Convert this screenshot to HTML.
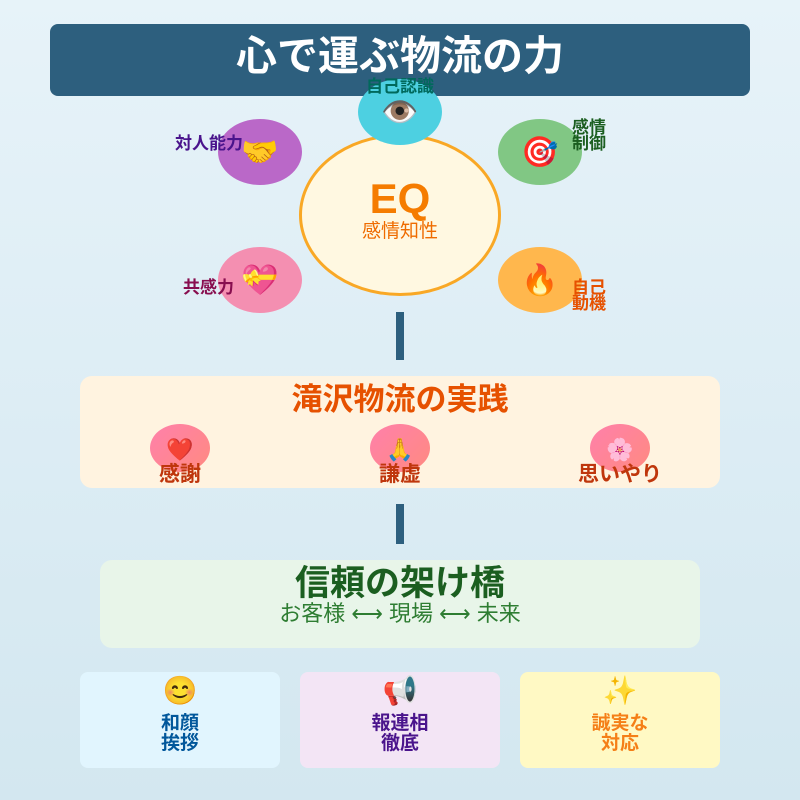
<!DOCTYPE html>
<html><head><meta charset="utf-8"><style>
*{margin:0;padding:0;box-sizing:border-box}
body{width:800px;height:800px;position:relative;overflow:hidden;background:linear-gradient(#e7f3f9,#d3e7f0);font-family:"Liberation Sans","Noto Sans CJK JP",sans-serif}
.a{position:absolute}
.c{position:absolute;text-align:center;white-space:nowrap}
.el{position:absolute;border-radius:50%;display:flex;align-items:center;justify-content:center;font-size:30px}
.lb{position:absolute;font-size:17px;font-weight:bold;line-height:16px;white-space:nowrap}
.pc{position:absolute;width:60px;height:48px;border-radius:50%;background:linear-gradient(135deg,#ff80ab,#ff8a80);text-align:center;font-size:22px;line-height:52px}
.pl{position:absolute;width:160px;text-align:center;font-size:21px;font-weight:bold;color:#bf360c;line-height:26px}
.card{position:absolute;top:672px;width:200px;height:96px;border-radius:8px;text-align:center}
.card .e{font-size:28px;line-height:32px;margin-top:3px}
.card .t{font-size:19px;font-weight:bold;line-height:20px;margin-top:7px}
</style></head><body>
<div class="a" style="left:50px;top:24px;width:700px;height:72px;background:#2d5f7e;border-radius:8px"></div>
<div class="c" style="left:50px;width:700px;top:32px;font-size:41px;font-weight:bold;color:#fff;line-height:48px">心で運ぶ物流の力</div>

<div class="a" style="left:299px;top:134px;width:202px;height:162px;border-radius:50%;background:#fff8e1;border:3px solid #f9a825"></div>
<div class="c" style="left:300px;width:200px;top:175px;font-size:42px;font-weight:bold;color:#f57c00;line-height:48px">EQ</div>
<div class="c" style="left:300px;width:200px;top:221px;font-size:19px;color:#ef6c00;line-height:22px">感情知性</div>

<div class="el" style="left:358px;top:79px;width:84px;height:66px;background:#4dd0e1">👁️</div>
<div class="el" style="left:218px;top:119px;width:84px;height:66px;background:#ba68c8">🤝</div>
<div class="el" style="left:498px;top:119px;width:84px;height:66px;background:#81c784">🎯</div>
<div class="el" style="left:218px;top:247px;width:84px;height:66px;background:#f48fb1">💝</div>
<div class="el" style="left:498px;top:247px;width:84px;height:66px;background:#ffb74d">🔥</div>

<div class="lb" style="left:366px;top:79px;color:#00695c">自己認識</div>
<div class="lb" style="left:175px;top:136px;color:#4a148c">対人能力</div>
<div class="lb" style="left:572px;top:120px;color:#1b5e20">感情<br>制御</div>
<div class="lb" style="left:183px;top:280px;color:#880e4f">共感力</div>
<div class="lb" style="left:572px;top:280px;color:#e65100">自己<br>動機</div>

<div class="a" style="left:396px;top:312px;width:8px;height:48px;background:#2d5f7e"></div>

<div class="a" style="left:80px;top:376px;width:640px;height:112px;background:#fff3e0;border-radius:12px"></div>
<div class="c" style="left:80px;width:640px;top:381px;font-size:31px;font-weight:bold;color:#e65100;line-height:38px">滝沢物流の実践</div>
<div class="pc" style="left:150px;top:424px">❤️</div>
<div class="pc" style="left:370px;top:424px">🙏</div>
<div class="pc" style="left:590px;top:424px">🌸</div>
<div class="pl" style="left:100px;top:462px">感謝</div>
<div class="pl" style="left:320px;top:462px">謙虚</div>
<div class="pl" style="left:540px;top:462px">思いやり</div>

<div class="a" style="left:396px;top:504px;width:8px;height:40px;background:#2d5f7e"></div>

<div class="a" style="left:100px;top:560px;width:600px;height:88px;background:#e8f5e9;border-radius:12px"></div>
<div class="c" style="left:100px;width:600px;top:563px;font-size:35px;font-weight:bold;color:#1b5e20;line-height:42px">信頼の架け橋</div>
<div class="c" style="left:100px;width:600px;top:600px;font-size:22px;color:#2e7d32;line-height:28px">お客様 ⟷ 現場 ⟷ 未来</div>

<div class="card" style="left:80px;background:#e1f5fe"><div class="e">😊</div><div class="t" style="color:#01579b">和顔<br>挨拶</div></div>
<div class="card" style="left:300px;background:#f3e5f5"><div class="e">📢</div><div class="t" style="color:#4a148c">報連相<br>徹底</div></div>
<div class="card" style="left:520px;background:#fff9c4"><div class="e">✨</div><div class="t" style="color:#f57f17">誠実な<br>対応</div></div>
</body></html>
